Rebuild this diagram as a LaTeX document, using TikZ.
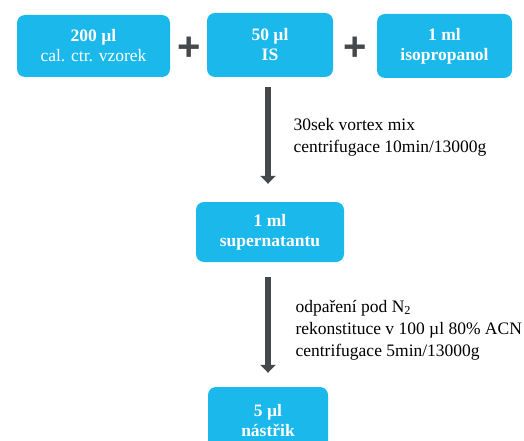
\documentclass[tikz,border=0pt]{standalone}
\usepackage{fontspec}
\setmainfont{Liberation Serif}
\setsansfont{Liberation Sans}
\usetikzlibrary{arrows.meta,positioning}

\definecolor{boxblue}{HTML}{1BB8EC}
\definecolor{arrgray}{HTML}{45494C}

\tikzset{
  krok/.style={rounded corners=8pt,fill=boxblue,text=white,align=center,
    font=\fontsize{17.5}{20}\selectfont\bfseries,inner sep=0pt},
  plus/.style={text=arrgray,font=\fontsize{40}{40}\selectfont\sffamily\bfseries,inner sep=0pt},
  sipka/.style={arrgray,line width=6.5pt,-{Triangle[width=15pt,length=8pt]}},
  popis/.style={anchor=west,align=left,font=\fontsize{17.5}{22}\selectfont}
}

\begin{document}
\begin{tikzpicture}[x=1pt,y=-1pt]
  \useasboundingbox (0,0) rectangle (524,441);
  \clip (0,0) rectangle (524,441);
  % horni rada: vzorek + IS + isopropanol
  \node[krok,minimum width=153pt,minimum height=62pt] (vzorek) at (93.5,46)
    {200 µl\\\mdseries cal. ctr. vzorek};
  \node[plus] (plusA) at (189,49) {+};
  \node[krok,minimum width=126pt,minimum height=64pt] (is) at (270,45) {50 µl\\IS};
  \node[plus] (plusB) at (355,49) {+};
  \node[krok,minimum width=135pt,minimum height=64pt] (iso) at (444.5,46) {1 ml\\isopropanol};
  % supernatant
  \node[krok,minimum width=148pt,minimum height=60pt] (super) at (270,232) {1 ml\\supernatantu};
  % nastrik (dole oriznuty)
  \node[krok,minimum width=120pt,minimum height=68pt] (nastrik) at (268,421) {5 µl\\nástřik};
  % sipky
  \draw[sipka,shorten <=10pt,shorten >=18pt] (is.south -| 268,0) -- (super.north -| 268,0);
  \draw[sipka,shorten <=15pt,shorten >=14pt] (super.south -| 268,0) -- (nastrik.north -| 268,0);
  % popisy kroku
  \node[popis] (krok1) at (290,137) {30sek vortex mix\\centrifugace 10min/13000g};
  \node[popis] (krok2) at (292,330) {odpaření pod N\textsubscript{2}\\rekonstituce v 100 µl 80\% ACN\\centrifugace 5min/13000g};
\end{tikzpicture}
\end{document}
